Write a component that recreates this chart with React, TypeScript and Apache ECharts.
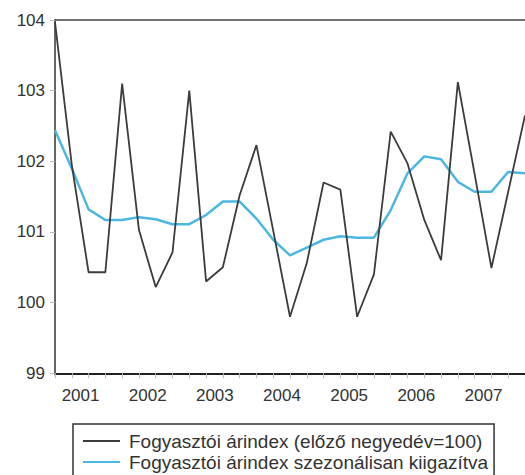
import React, { useEffect, useRef } from "react";
import * as echarts from "echarts";

const years = ["2001", "2002", "2003", "2004", "2005", "2006", "2007", "2008"];
const quarters = ["Q1", "Q2", "Q3", "Q4"];
const categories: string[] = [];
years.forEach((y) => quarters.forEach((q) => categories.push(`${y} ${q}`)));
categories.splice(29);

const seriesNames = [
  "Fogyasztói árindex (előző negyedév=100)",
  "Fogyasztói árindex szezonálisan kiigazítva",
];

const cpiPrevQuarter = [
  103.97, 101.95, 100.43, 100.43,
  103.1, 101.03, 100.22, 100.71,
  103.0, 100.3, 100.5, 101.52,
  102.23, 101.02, 99.8, 100.56,
  101.7, 101.6, 99.8, 100.4,
  102.42, 101.97, 101.17, 100.6,
  103.12, 101.82, 100.49, 101.57,
  102.65,
];

const cpiSeasonallyAdjusted = [
  102.44, 101.9, 101.32, 101.17,
  101.17, 101.21, 101.18, 101.11,
  101.11, 101.24, 101.43, 101.43,
  101.19, 100.89, 100.67, 100.78,
  100.89, 100.94, 100.92, 100.92,
  101.31, 101.83, 102.07, 102.03,
  101.71, 101.57, 101.57, 101.85,
  101.83,
];

const yMin = 99;
const yMax = 104;
const yInterval = 1;

const FONT = "'Liberation Sans', Arial, sans-serif";

export default function App() {
  const ref = useRef<HTMLDivElement>(null);

  useEffect(() => {
    document.body.style.margin = "0";
    if (!ref.current) return;
    const chart = echarts.init(ref.current, undefined, { renderer: "svg" });
    chart.setOption({
      animation: false,
      backgroundColor: "#ffffff",
      textStyle: { fontFamily: FONT },
      grid: { left: 55, right: 0, top: 20, bottom: 101.7, containLabel: false },
      legend: {
        orient: "vertical",
        left: 73,
        top: 424,
        height: 80,
        padding: [7, 6, 8, 10],
        itemGap: 1,
        itemWidth: 37,
        itemHeight: 2,
        icon: "rect",
        borderColor: "#333333",
        borderWidth: 1.5,
        borderRadius: 0,
        textStyle: {
          fontFamily: FONT,
          fontSize: 19,
          color: "#333333",
          lineHeight: 20,
          padding: [0, 0, 0, 4],
        },
        data: seriesNames,
      },
      xAxis: [
        {
          type: "category",
          data: categories,
          boundaryGap: false,
          axisLine: { show: true, lineStyle: { color: "#222222", width: 2 } },
          axisTick: {
            show: true,
            interval: 0,
            length: 5,
            lineStyle: { color: "#bbbbbb", width: 1 },
          },
          axisLabel: {
            interval: (index: number) => index % 4 === 2,
            formatter: (v: string) => v.split(" ")[0],
            fontFamily: FONT,
            fontSize: 17,
            color: "#333333",
            margin: 14,
            padding: [0, 16, 0, 0],
          },
          splitLine: { show: false },
        },
        {
          type: "category",
          data: categories,
          boundaryGap: false,
          position: "top",
          axisLine: { show: true, lineStyle: { color: "#444444", width: 1.5 } },
          axisTick: { show: false },
          axisLabel: { show: false },
          splitLine: { show: false },
        },
      ],
      yAxis: {
        type: "value",
        min: yMin,
        max: yMax,
        interval: yInterval,
        axisLine: { show: true, lineStyle: { color: "#333333", width: 1.5 } },
        axisTick: { show: true, length: 5, lineStyle: { color: "#bbbbbb" } },
        axisLabel: {
          fontFamily: FONT,
          fontSize: 17,
          color: "#333333",
          margin: 10,
        },
        splitLine: { show: false },
      },
      series: [
        {
          name: seriesNames[0],
          type: "line",
          data: cpiPrevQuarter,
          symbol: "none",
          lineStyle: { color: "#3c3c3c", width: 1.8 },
          itemStyle: { color: "#3c3c3c" },
          z: 3,
        },
        {
          name: seriesNames[1],
          type: "line",
          data: cpiSeasonallyAdjusted,
          symbol: "none",
          lineStyle: { color: "#4cb8e2", width: 2.5 },
          itemStyle: { color: "#4cb8e2" },
          z: 2,
        },
      ],
    });
    return () => chart.dispose();
  }, []);

  return <div ref={ref} style={{ width: 525, height: 475 }} />;
}
